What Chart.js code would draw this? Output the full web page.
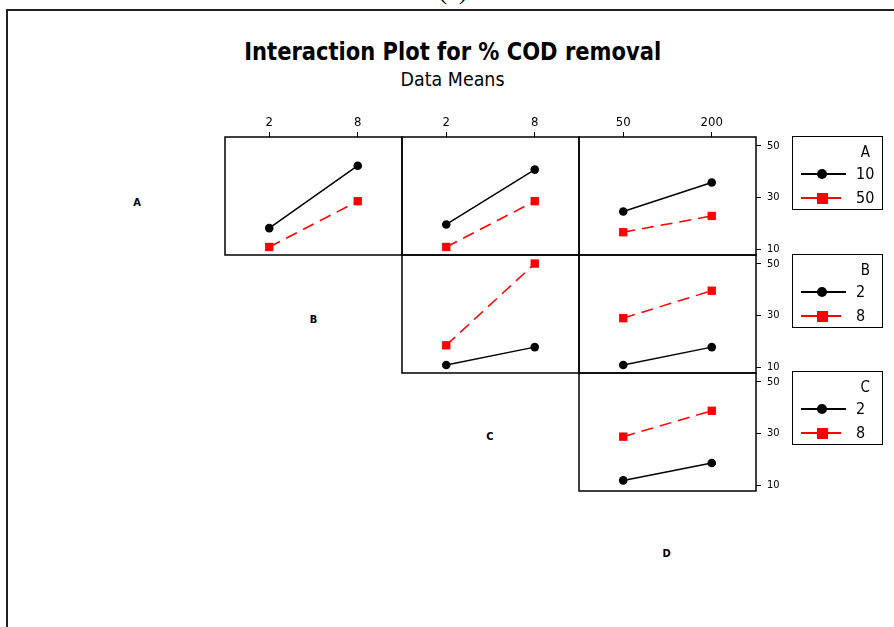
<!DOCTYPE html>
<html>
<head>
<meta charset="utf-8">
<script src="https://cdn.jsdelivr.net/npm/chart.js@4.4.0/dist/chart.umd.min.js"></script>
<style>
  body { margin: 0; width: 894px; height: 627px; background: #fff; position: relative; overflow: hidden;
         font-family: "Liberation Sans Narrow", "DejaVu Sans Condensed", "Liberation Sans", sans-serif; }
  canvas { position: absolute; }
  .abs { position: absolute; white-space: nowrap; }
  #frame { left: 6px; top: 9px; width: 900px; height: 700px; border-left: 2px solid #222; border-top: 2px solid #222; }
  #fig { left: 353px; width: 200px; top: -24px; text-align: center; font: 26px "Liberation Serif", serif; }
  .fit { display: inline-block; transform-origin: 50% 50%; }
  #title { left: 153px; width: 600px; top: 39px; text-align: center; font-weight: bold; font-size: 25px; line-height: 25px; }
  #subtitle { left: 253px; width: 400px; top: 69px; text-align: center; font-size: 20px; line-height: 20px; }
  .var { font-weight: bold; font-size: 11px; line-height: 12px; width: 20px; text-align: center; }
  .legend { border: 1.5px solid #000; width: 89px; height: 72px; box-sizing: content-box; }
  .legend .ttl { position: absolute; right: 12px; top: 6px; font-size: 15px; line-height: 18px; }
  .legend .row { position: absolute; left: 6px; width: 80px; height: 20px; }
  .legend .ln { position: absolute; left: 2px; top: 9px; width: 45px; height: 1.5px; }
  .legend .mk { position: absolute; }
  .legend .lb { position: absolute; left: 57px; top: 1px; font-size: 16px; line-height: 18px; }
</style>
</head>
<body>
<div id="frame" class="abs"></div>
<div id="fig" class="abs">(a)</div>
<div id="title" class="abs"><span class="fit" data-w="417">Interaction Plot for % COD removal</span></div>
<div id="subtitle" class="abs"><span class="fit" data-w="104">Data Means</span></div>

<script>
// factor levels (x categories and legend entries)
const varNames = ['A', 'B', 'C', 'D'];
const levelsA = ['10', '50'];
const levelsB = ['2', '8'];
const levelsC = ['2', '8'];
const levelsD = ['50', '200'];
const yTicks = [10, 30, 50];

// data means (first level = black, second level = red)
const AB_A10 = [18.2, 42.3];
const AB_A50 = [10.9, 28.6];
const AC_A10 = [19.6, 40.8];
const AC_A50 = [10.9, 28.6];
const AD_A10 = [24.6, 35.8];
const AD_A50 = [16.6, 22.9];
const BC_B2 = [10.9, 17.8];
const BC_B8 = [18.5, 50.1];
const BD_B2 = [10.9, 17.8];
const BD_B8 = [29.0, 39.6];
const CD_C2 = [11.9, 18.6];
const CD_C8 = [28.8, 38.8];

Chart.defaults.font.family = '"Liberation Sans Narrow", "DejaVu Sans Condensed", "Liberation Sans", sans-serif';
Chart.defaults.color = '#000';

// grid geometry (neighbouring panels share their edges)
const colX = [225, 402, 579];
const rowY = [137, 255, 373];
const cellW = 177, cellH = 118;
const pad = 3, topH = 24, rightW = 28;

const panels = [
  { row: 0, col: 0, x: levelsB, lv: levelsA, s: [AB_A10, AB_A50] },
  { row: 0, col: 1, x: levelsC, lv: levelsA, s: [AC_A10, AC_A50] },
  { row: 0, col: 2, x: levelsD, lv: levelsA, s: [AD_A10, AD_A50] },
  { row: 1, col: 1, x: levelsC, lv: levelsB, s: [BC_B2, BC_B8] },
  { row: 1, col: 2, x: levelsD, lv: levelsB, s: [BD_B2, BD_B8] },
  { row: 2, col: 2, x: levelsD, lv: levelsC, s: [CD_C2, CD_C8] }
];

const panelBox = {
  id: 'panelBox',
  beforeDatasetsDraw(chart) {
    const a = chart.chartArea, ctx = chart.ctx;
    ctx.save();
    ctx.strokeStyle = '#000';
    ctx.lineWidth = 1.5;
    ctx.strokeRect(a.left, a.top, a.right - a.left, a.bottom - a.top);
    ctx.restore();
  }
};

panels.forEach(p => {
  const topAxis = p.row === 0;
  const rightAxis = p.col === 2;
  const cv = document.createElement('canvas');
  const w = cellW + pad + (rightAxis ? rightW : pad);
  const h = cellH + (topAxis ? topH : pad) + pad;
  cv.width = w; cv.height = h;
  cv.style.left = (colX[p.col] - pad) + 'px';
  cv.style.top = (rowY[p.row] - (topAxis ? topH : pad)) + 'px';
  document.body.appendChild(cv);

  new Chart(cv, {
    type: 'line',
    data: {
      labels: p.x,
      datasets: [
        { label: p.lv[0], data: p.s[0], borderColor: '#000', backgroundColor: '#000', borderWidth: 1.5,
          pointStyle: 'circle', pointRadius: 4.3, pointBorderWidth: 0 },
        { label: p.lv[1], data: p.s[1], borderColor: '#f00', backgroundColor: '#f00', borderWidth: 1.5,
          borderDash: [12, 7], pointStyle: 'rect', pointRadius: 5.9, pointBorderWidth: 0 }
      ]
    },
    options: {
      responsive: false,
      animation: false,
      devicePixelRatio: 1,
      clip: false,
      layout: { autoPadding: false, padding: { left: pad, right: rightAxis ? 0 : pad, top: topAxis ? 0 : pad, bottom: pad } },
      plugins: { legend: { display: false }, tooltip: { enabled: false } },
      scales: {
        x: {
          type: 'category', position: 'top', offset: true, display: topAxis,
          grid: { display: true, drawOnChartArea: false, drawTicks: true, tickLength: 5, color: '#000', lineWidth: 1 },
          border: { display: false },
          ticks: { font: { size: 13 }, padding: 2, maxRotation: 0 },
          afterFit: s => {
            if (topAxis) s.height = topH;
            s.paddingLeft = 0; s.paddingRight = 0;
          }
        },
        y: {
          type: 'linear', position: 'right', min: 7.8, max: 53.4, display: rightAxis,
          grid: { display: true, drawOnChartArea: false, drawTicks: true, tickLength: 5, color: '#000', lineWidth: 1 },
          border: { display: false },
          ticks: { font: { size: 11 }, padding: 6 },
          afterBuildTicks: s => { s.ticks = yTicks.map(v => ({ value: v })); },
          afterFit: s => {
            if (rightAxis) s.width = rightW;
            s.paddingTop = 0; s.paddingBottom = 0;
          }
        }
      }
    },
    plugins: [panelBox]
  });
});

// variable names on the diagonal
const diagX = [137, 313.5, 490, 666.5];
const diagY = [202.7, 320, 437, 554.3];
varNames.forEach((n, i) => {
  const d = document.createElement('div');
  d.className = 'abs var';
  d.textContent = n;
  d.style.left = (diagX[i] - 10) + 'px';
  d.style.top = (diagY[i] - 6) + 'px';
  document.body.appendChild(d);
});

// legends to the right of each row
const legends = [
  { name: varNames[0], lv: levelsA, top: 136 },
  { name: varNames[1], lv: levelsB, top: 254 },
  { name: varNames[2], lv: levelsC, top: 371 }
];
legends.forEach(L => {
  const box = document.createElement('div');
  box.className = 'abs legend';
  box.style.left = '792px';
  box.style.top = L.top + 'px';
  let html = '<div class="ttl">' + L.name + '</div>';
  L.lv.forEach((v, i) => {
    const col = i === 0 ? '#000' : '#f00';
    const mk = i === 0
      ? '<div class="mk" style="left:18px;top:5px;width:10px;height:10px;border-radius:50%;background:#000"></div>'
      : '<div class="mk" style="left:18px;top:4.5px;width:11px;height:11px;background:#f00"></div>';
    html += '<div class="row" style="top:' + (27 + i * 24) + 'px">' +
      '<div class="ln" style="background:' + col + (i === 1 ? ';width:40px' : '') + '"></div>' + mk +
      '<div class="lb">' + v + '</div></div>';
  });
  box.innerHTML = html;
  document.body.appendChild(box);
});

// squeeze title texts to the reference widths
document.querySelectorAll('.fit').forEach(el => {
  const target = Number(el.dataset.w);
  const wNow = el.getBoundingClientRect().width;
  if (wNow > 0) el.style.transform = 'scaleX(' + (target / wNow).toFixed(3) + ')';
});
</script>
</body>
</html>
